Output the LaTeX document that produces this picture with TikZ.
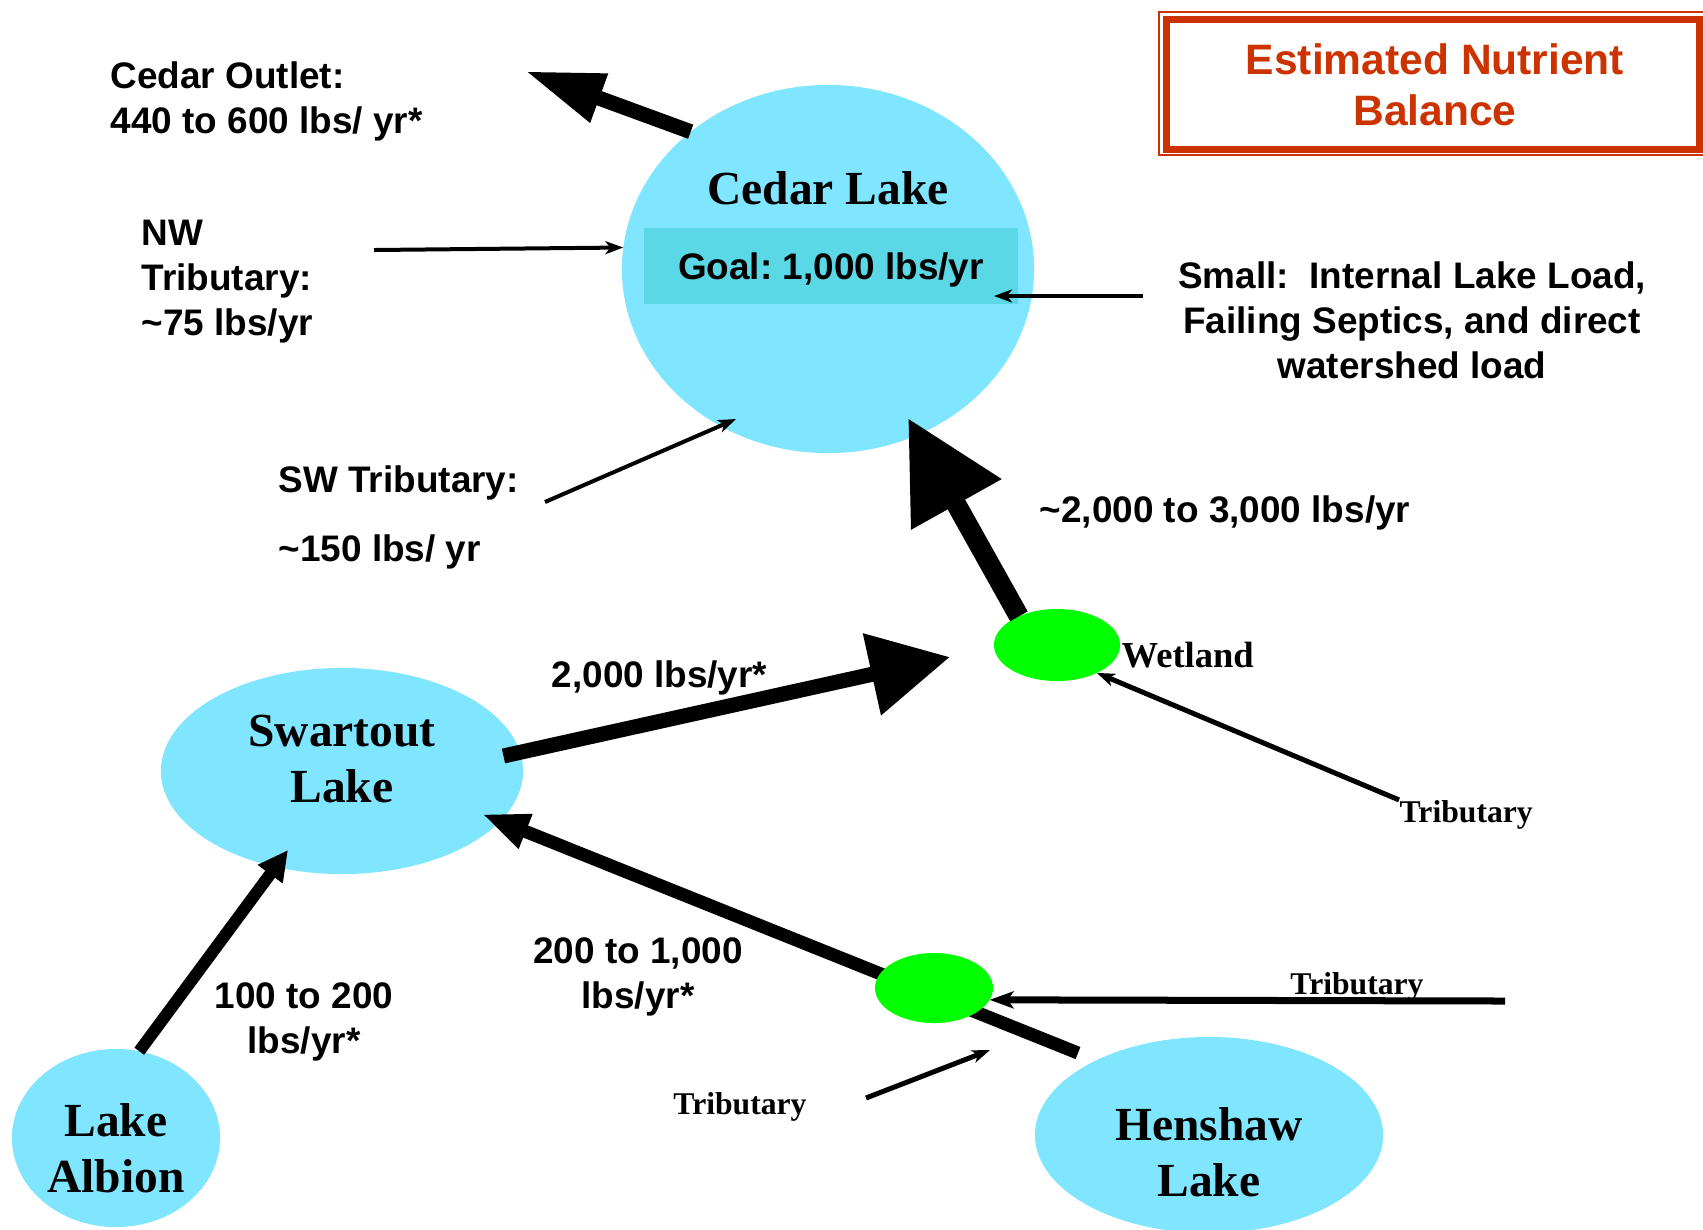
\documentclass[tikz,border=0pt]{standalone}
\usepackage{fontspec}
\setmainfont{Liberation Serif}
\setsansfont{Liberation Sans}
\usetikzlibrary{arrows.meta,shapes.geometric}

\definecolor{lakecyan}{RGB}{128,229,255}
\definecolor{goalcyan}{RGB}{90,216,230}
\definecolor{marshgreen}{RGB}{0,255,0}
\definecolor{titlered}{RGB}{204,51,0}

\tikzset{
  lake/.style={ellipse, fill=lakecyan, inner sep=0pt, outer sep=0pt},
  marsh/.style={ellipse, fill=marshgreen, inner sep=0pt, outer sep=0pt},
  lakename/.style={font=\fontsize{13.5}{16}\selectfont\bfseries, align=center, inner sep=0pt},
  load/.style={font=\sffamily\bfseries\fontsize{10.5}{12.8}\selectfont\frenchspacing, inner sep=0pt},
  tribname/.style={font=\bfseries\fontsize{9}{11}\selectfont, inner sep=0pt},
  inflow/.style={line width=0.04cm, -{Stealth[length=0.18cm, width=0.13cm, inset=0.05cm]}},
  nutrientflow/.style n args={3}{line width=#1, -{Triangle[length=#2, width=#3]}},
}

\begin{document}
\begin{tikzpicture}[x=0.01cm, y=-0.01cm]
  \useasboundingbox (0,0) rectangle (1703,1229);

  % lakes
  \node[lake, minimum width=4.12cm, minimum height=3.68cm] (cedar) at (828,269) {};
  \node[lake, minimum width=3.62cm, minimum height=2.06cm] (swartout) at (342,771) {};
  \node[lake, minimum width=2.08cm, minimum height=1.78cm] (albion) at (116,1138) {};
  \node[lake, minimum width=3.48cm, minimum height=1.96cm] (henshaw) at (1209,1135) {};
  \node[load, fill=goalcyan, minimum width=3.74cm, minimum height=0.76cm] (goal) at (831,266) {};
  \node[load] (goal text) at (831,270) {Goal: 1,000 lbs/yr};
  \node[marsh, minimum width=1.26cm, minimum height=0.72cm] (wetland) at (1057,645) {};

  % free ends
  \coordinate (outlet end) at (525,71);
  \coordinate (cedar in) at (908,418);
  \coordinate (wetland in) at (950,657);
  \coordinate (swartout in) at (482,814);
  \coordinate (albion to swartout) at (288,850);
  \coordinate (henshaw out) at (1078,1053);

  % main flows
  \draw[nutrientflow={0.15cm}{0.79cm}{0.48cm}] (cedar.135) -- (outlet end);
  \draw[nutrientflow={0.20cm}{0.99cm}{0.98cm}] (wetland.143) -- (cedar in);
  \draw[nutrientflow={0.15cm}{0.80cm}{0.80cm}, shorten <=-0.17cm] (swartout.6) -- (wetland in);
  \draw[nutrientflow={0.13cm}{0.47cm}{0.34cm}] (henshaw out) -- (swartout in);
  \draw[nutrientflow={0.12cm}{0.30cm}{0.29cm}] (albion.75) -- (albion to swartout);

  \node[marsh, minimum width=1.18cm, minimum height=0.70cm] (lower marsh) at (934,988) {};

  % names
  \node[lakename] (cedar name) at (828,188) {Cedar Lake};
  \node[lakename] (swartout name) at (342,759) {Swartout\\Lake};
  \node[lakename] (albion name) at (116,1148) {Lake\\Albion};
  \node[lakename] (henshaw name) at (1209,1152) {Henshaw\\Lake};
  \node[font=\bfseries\fontsize{10.4}{12}\selectfont, inner sep=0pt, anchor=west] (wetland name) at (1121,655) {Wetland};
  \node[tribname, anchor=west] (wetland trib) at (1399,815) {Tributary};
  \node[tribname] (east trib) at (1357,987) {Tributary};
  \node[tribname] (south trib) at (740,1107) {Tributary};

  % loads
  \node[load, anchor=west, align=left] (outlet label) at (110,101) {Cedar Outlet:\\440 to 600 lbs/ yr*};
  \node[load, anchor=west, align=left] (nw label) at (141,282) {NW\\Tributary:\\\textasciitilde75 lbs/yr};
  \node[load, align=center] (small label) at (1412,320) {Small:\ \ Internal Lake Load,\\Failing Septics, and direct\\watershed load};
  \node[load, anchor=west, align=left] (sw label) at (278,517) {SW Tributary:\\[0.24cm]\textasciitilde150 lbs/ yr};
  \node[load, anchor=west] (main load) at (1039,513) {\textasciitilde2,000 to 3,000 lbs/yr};
  \node[load, anchor=west] (swartout load) at (551,678) {2,000 lbs/yr*};
  \node[load, align=center] (henshaw load) at (638,977) {200 to 1,000\\lbs/yr*};
  \node[load, align=center] (albion load) at (304,1022) {100 to 200\\lbs/yr*};

  % small inflows
  \coordinate (nw start) at (374,250);
  \coordinate (small start) at (1143,296);
  \coordinate (small end) at (994,296);
  \coordinate (sw start) at (545,502);
  \coordinate (sw end) at (736,419);
  \coordinate (east trib start) at (1505,1001);
  \coordinate (south trib start) at (866,1098);
  \coordinate (south trib end) at (990,1050);
  \draw[inflow] (nw start) -- (cedar.174);
  \draw[inflow] (small start) -- (small end);
  \draw[inflow] (sw start) -- (sw end);
  \draw[inflow, line width=0.05cm] (wetland trib.north west) -- (wetland.-35);
  \draw[inflow, line width=0.07cm, -{Stealth[length=0.24cm, width=0.17cm, inset=0.06cm]}] (east trib start) -- (lower marsh.-12);
  \draw[inflow, line width=0.05cm] (south trib start) -- (south trib end);

  % title
  \draw[titlered, line width=0.015cm] (1159,12) rectangle (1712,155);
  \draw[titlered, line width=0.07cm] (1166,19) rectangle (1699,149);
  \node[font=\sffamily\bfseries\fontsize{12.1}{14.5}\selectfont, text=titlered, align=center] (title) at (1435,85) {Estimated Nutrient\\Balance};
\end{tikzpicture}
\end{document}
